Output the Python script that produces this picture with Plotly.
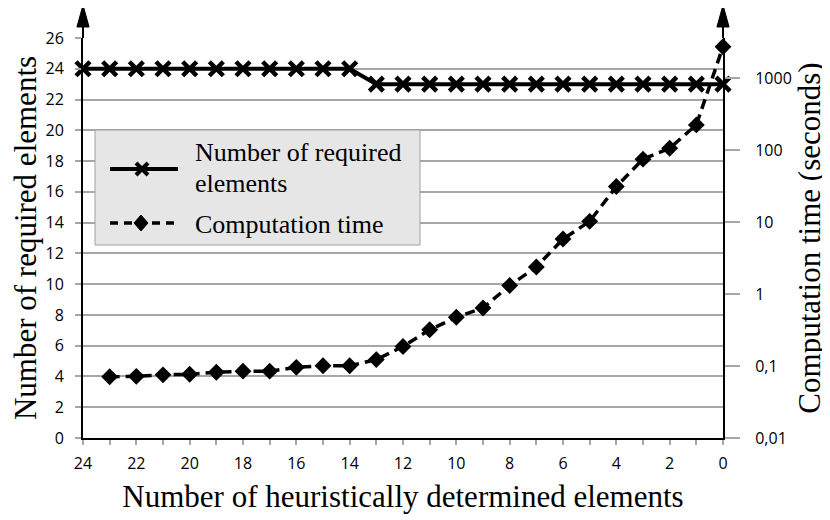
import plotly.graph_objects as go

# ---- data ----
req_x = [24, 23, 22, 21, 20, 19, 18, 17, 16, 15, 14, 13, 12, 11, 10, 9, 8, 7, 6, 5, 4, 3, 2, 1, 0]
req_y = [24, 24, 24, 24, 24, 24, 24, 24, 24, 24, 24, 23, 23, 23, 23, 23, 23, 23, 23, 23, 23, 23, 23, 23, 23]
time_x = [23, 22, 21, 20, 19, 18, 17, 16, 15, 14, 13, 12, 11, 10, 9, 8, 7, 6, 5, 4, 3, 2, 1, 0]
time_y = [0.071, 0.072, 0.0755, 0.077, 0.082, 0.085, 0.085, 0.096, 0.101, 0.101, 0.123, 0.187,
          0.32, 0.477, 0.643, 1.32, 2.39, 5.85, 10.3, 31.4, 75.5, 107, 226, 2766]
left_ticks = list(range(0, 27, 2))
right_ticks = [0.01, 0.1, 1, 10, 100, 1000]
right_labels = ["0,01", "0,1", "1", "10", "100", "1000"]
legend_names = ["Number of required", "elements", "Computation time"]

SERIF = "Liberation Serif"
SANS = "Open Sans"
GRID = "#a6a6a6"

fig = go.Figure()
fig.add_trace(go.Scatter(
    x=req_x, y=req_y, mode="lines+markers", name="Number of required elements",
    line=dict(color="black", width=4),
    marker=dict(symbol="x-thin", size=14, line=dict(color="black", width=4.5)),
    cliponaxis=False, yaxis="y"))
fig.add_trace(go.Scatter(
    x=time_x, y=time_y, mode="lines+markers", name="Computation time",
    line=dict(color="black", width=3.5, dash="10px,6px"),
    marker=dict(symbol="diamond", size=13, color="black"),
    cliponaxis=False, yaxis="y2"))

# arrowheads on top of the two vertical axes
for xp in (0, 1):
    fig.add_shape(type="line", xref="paper", yref="paper", x0=xp, x1=xp, y0=1, y1=1.035,
                  line=dict(color="black", width=2))
    fig.add_shape(type="path", xref="paper", yref="paper",
                  path=f"M {xp-0.0095} 1.0275 L {xp} 1.0825 L {xp+0.0095} 1.0275 Z",
                  fillcolor="black", line=dict(color="black", width=1))

# ---- custom legend (box, samples, labels) ----
def px(x):
    return (x - 83) / 640

def py(y):
    return (438 - y) / 400

fig.add_shape(type="rect", xref="paper", yref="paper", x0=px(95), x1=px(420), y0=py(245), y1=py(130),
              fillcolor="#e6e6e6", line=dict(color="#a0a0a0", width=1), layer="above")
# solid sample with cross
fig.add_shape(type="line", xref="paper", yref="paper", x0=px(110), x1=px(178), y0=py(169), y1=py(169),
              line=dict(color="black", width=4))
for d in (1, -1):
    fig.add_shape(type="line", xref="paper", yref="paper", x0=px(136), x1=px(148),
                  y0=py(169 - 6 * d), y1=py(169 + 6 * d), line=dict(color="black", width=4))
# dashed sample with diamond
fig.add_shape(type="line", xref="paper", yref="paper", x0=px(110), x1=px(178), y0=py(223), y1=py(223),
              line=dict(color="black", width=3.5, dash="8px,6px"))
fig.add_shape(type="path", xref="paper", yref="paper",
              path=f"M {px(134)} {py(223)} L {px(141)} {py(215)} L {px(148)} {py(223)} L {px(141)} {py(231)} Z",
              fillcolor="black", line=dict(color="black", width=1))
for name, yy in zip(legend_names, (152, 183, 224)):
    fig.add_annotation(xref="paper", yref="paper", x=px(193), y=py(yy), text=name, showarrow=False,
                       xanchor="left", yanchor="middle", font=dict(family=SERIF, size=26, color="black"))

fig.update_layout(
    width=830, height=520,
    margin=dict(l=75, r=115, t=30, b=90),
    plot_bgcolor="white", paper_bgcolor="white",
    font=dict(family=SANS, size=16, color="black"),
    showlegend=False,
    xaxis=dict(range=[24, 0], dtick=2, tick0=0, showgrid=False, zeroline=False, automargin=False,
               showline=True, linecolor="black", linewidth=2,
               ticks="outside", ticklen=5, tickcolor=GRID, tickwidth=1.5,
               minor=dict(dtick=1, ticks="outside", ticklen=5, tickcolor=GRID, tickwidth=1.5),
               tickfont=dict(family=SANS, size=16), ticklabelstandoff=5,
               title=dict(text="Number of heuristically determined elements",
                          font=dict(family=SERIF, size=31), standoff=12)),
    yaxis=dict(range=[0, 26], tickvals=left_ticks, showgrid=True, gridcolor=GRID, gridwidth=1.5,
               zeroline=False, showline=True, linecolor="black", linewidth=2, automargin=False,
               ticks="outside", ticklen=6, tickcolor=GRID, tickwidth=1.5,
               tickfont=dict(family=SANS, size=16), ticklabelstandoff=8,
               title=dict(text="Number of required elements",
                          font=dict(family=SERIF, size=31), standoff=4)),
    yaxis2=dict(type="log", range=[-2, 3.5625], overlaying="y", side="right", automargin=False,
                tickvals=right_ticks, ticktext=right_labels, showgrid=False, zeroline=False,
                showline=True, linecolor="black", linewidth=2,
                ticks="outside", ticklen=15, tickcolor=GRID, tickwidth=1.5,
                tickfont=dict(family=SANS, size=16), ticklabelstandoff=12,
                title=dict(text="Computation time (seconds)",
                           font=dict(family=SERIF, size=31), standoff=5)),
)

fig.write_html("out.html")
